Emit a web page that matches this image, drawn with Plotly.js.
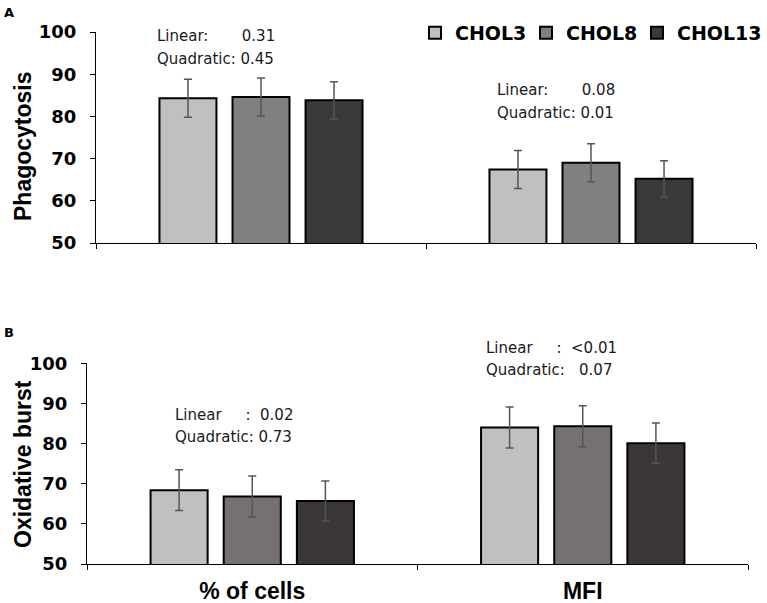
<!DOCTYPE html>
<html>
<head>
<meta charset="utf-8">
<script src="https://cdn.plot.ly/plotly-3.0.1.min.js"></script>
<style>html,body{margin:0;padding:0;background:#fff;}#chart{width:767px;height:603px;}</style>
</head>
<body>
<div id="chart"></div>
<script>
// ---- data ----
var categories = ['% of cells', 'MFI'];
var seriesNames = ['CHOL3', 'CHOL8', 'CHOL13'];

var phagoCHOL3  = [84.3, 67.4];
var phagoCHOL8  = [84.6, 69.0];
var phagoCHOL13 = [83.8, 65.2];
var phagoErrCHOL3  = [4.5, 4.5];
var phagoErrCHOL8  = [4.5, 4.5];
var phagoErrCHOL13 = [4.4, 4.3];

var burstCHOL3  = [68.4, 84.0];
var burstCHOL8  = [66.8, 84.3];
var burstCHOL13 = [65.7, 80.1];
var burstErrCHOL3  = [5.1, 5.1];
var burstErrCHOL8  = [5.1, 5.1];
var burstErrCHOL13 = [5.0, 5.0];

var yTickVals = [50, 60, 70, 80, 90, 100];
var yTitles = ['Phagocytosis', 'Oxidative burst'];
var panelLabels = ['A', 'B'];

var statsPhagoCells = ['Linear:\u00a0\u00a0\u00a0\u00a0\u00a0\u00a0\u00a00.31', 'Quadratic: 0.45'];
var statsPhagoMFI   = ['Linear:\u00a0\u00a0\u00a0\u00a0\u00a0\u00a0\u00a00.08', 'Quadratic: 0.01'];
var statsBurstCells = ['Linear\u00a0\u00a0\u00a0\u00a0\u00a0:\u00a0\u00a00.02', 'Quadratic: 0.73'];
var statsBurstMFI   = ['Linear\u00a0\u00a0\u00a0\u00a0\u00a0:\u00a0\u00a0&lt;0.01', 'Quadratic:\u00a0\u00a0\u00a00.07'];

// ---- styling ----
var W = 767, H = 603;
function px(x) { return x / W; }
function py(y) { return 1 - y / H; }

var colorsA = ['#c0c0c0', '#808080', '#3a3a3a'];
var colorsB = ['#c0c0c0', '#767070', '#3b3738'];
var legendWidths = [66, 66, 88];

var phagoVals = [phagoCHOL3, phagoCHOL8, phagoCHOL13];
var phagoErrs = [phagoErrCHOL3, phagoErrCHOL8, phagoErrCHOL13];
var burstVals = [burstCHOL3, burstCHOL8, burstCHOL13];
var burstErrs = [burstErrCHOL3, burstErrCHOL8, burstErrCHOL13];

var traces = [];
function addTraces(vals, errs, colors, xa, ya, showLegend) {
  for (var i = 0; i < seriesNames.length; i++) {
    traces.push({
      type: 'bar',
      name: seriesNames[i],
      x: categories,
      y: vals[i],
      xaxis: xa, yaxis: ya,
      showlegend: showLegend,
      legendgroup: seriesNames[i],
      legendwidth: legendWidths[i],
      marker: { color: colors[i], line: { color: '#000', width: 2 } },
      error_y: { type: 'data', array: errs[i], visible: true, color: '#555', thickness: 1.5, width: 4 },
      hoverinfo: 'y'
    });
  }
}
addTraces(phagoVals, phagoErrs, colorsA, 'x', 'y', true);
addTraces(burstVals, burstErrs, colorsB, 'x2', 'y2', false);

var tickFont = { family: 'DejaVu Sans', size: 18, weight: 'bold', color: '#000' };
var titleFont = { family: 'Liberation Sans, Arial, sans-serif', size: 23, weight: 'bold', color: '#000' };
var annFont = { family: 'DejaVu Sans', size: 15, color: '#1a1a1a' };

function yAxis(domain, anchor) {
  return {
    domain: domain, range: [50, 100], anchor: anchor,
    tickvals: yTickVals, ticks: 'outside', ticklen: 5, tickwidth: 1, tickcolor: '#000',
    showline: true, linecolor: '#000', linewidth: 1,
    showgrid: false, zeroline: false,
    tickfont: tickFont, ticklabelstandoff: 10,
    fixedrange: true
  };
}
function xAxis(domain, anchor, showLabels) {
  return {
    domain: domain, anchor: anchor, type: 'category',
    ticks: 'outside', tickson: 'boundaries', ticklen: 5, tickwidth: 1, tickcolor: '#000',
    showline: true, linecolor: '#000', linewidth: 1,
    showgrid: false, zeroline: false,
    showticklabels: showLabels,
    tickfont: { family: 'Liberation Sans, Arial, sans-serif', size: 23, weight: 'bold', color: '#000' },
    ticklabelstandoff: 6,
    fixedrange: true
  };
}

var annotations = [];
function addStats(lines, x, y0, y1) {
  annotations.push({ xref: 'paper', yref: 'paper', x: px(x), y: py(y0), xanchor: 'left', yanchor: 'middle', text: lines[0], showarrow: false, font: annFont });
  annotations.push({ xref: 'paper', yref: 'paper', x: px(x), y: py(y1), xanchor: 'left', yanchor: 'middle', text: lines[1], showarrow: false, font: annFont });
}
addStats(statsPhagoCells, 155, 36, 59);
addStats(statsPhagoMFI, 495, 90, 113);
addStats(statsBurstCells, 173, 415, 437);
addStats(statsBurstMFI, 484, 348, 370);

// y-axis titles (rotated)
annotations.push({ xref: 'paper', yref: 'paper', x: px(23), y: py(146), xanchor: 'center', yanchor: 'middle', textangle: -90, text: yTitles[0], showarrow: false, font: titleFont });
annotations.push({ xref: 'paper', yref: 'paper', x: px(23), y: py(464), xanchor: 'center', yanchor: 'middle', textangle: -90, text: yTitles[1], showarrow: false, font: titleFont });

annotations.push({ xref: 'paper', yref: 'paper', x: px(2), y: py(12), xanchor: 'left', yanchor: 'middle', text: panelLabels[0], showarrow: false, font: { family: 'DejaVu Sans', size: 13, weight: 'bold', color: '#000' } });
annotations.push({ xref: 'paper', yref: 'paper', x: px(2), y: py(332), xanchor: 'left', yanchor: 'middle', text: panelLabels[1], showarrow: false, font: { family: 'DejaVu Sans', size: 13, weight: 'bold', color: '#000' } });

var layout = {
  width: W, height: H,
  margin: { l: 0, r: 0, t: 0, b: 0, autoexpand: false },
  paper_bgcolor: '#fff', plot_bgcolor: '#fff',
  barmode: 'group', bargap: 0.336, bargroupgap: 0.22,
  showlegend: true,
  legend: {
    orientation: 'h', x: px(415), xanchor: 'left', y: py(33), yanchor: 'middle',
    entrywidthmode: 'pixels',
    font: { family: 'DejaVu Sans', size: 19, weight: 'bold', color: '#000' },
    bgcolor: 'rgba(0,0,0,0)', itemclick: false, itemdoubleclick: false, traceorder: 'normal'
  },
  xaxis: xAxis([px(96), px(756)], 'y', false),
  yaxis: yAxis([py(243), py(32)], 'x'),
  xaxis2: xAxis([px(87), px(748)], 'y2', true),
  yaxis2: yAxis([py(564), py(363.3)], 'x2'),
  annotations: annotations
};

Plotly.newPlot('chart', traces, layout, { displayModeBar: false, staticPlot: true });
</script>
</body>
</html>
